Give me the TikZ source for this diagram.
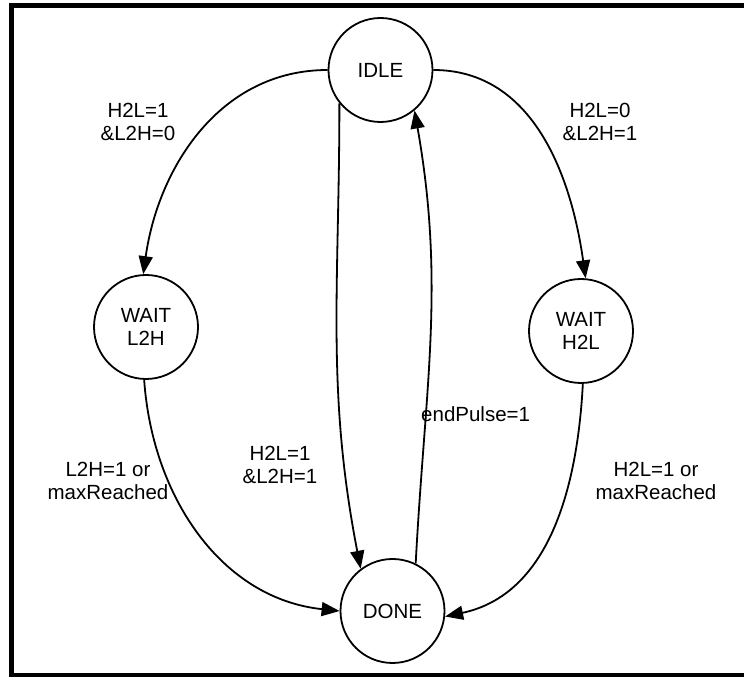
\documentclass[tikz,border=0pt]{standalone}
\usepackage{fontspec}
\setmainfont{Liberation Sans}
\usetikzlibrary{arrows.meta}
\tikzset{
  state/.style={draw, circle, line width=1.8pt, minimum size=104pt, inner sep=0pt, align=center, font=\fontsize{20.5}{23.8}\selectfont},
  lbl/.style={align=center, inner sep=0pt, font=\fontsize{20.5}{23.8}\selectfont},
  edge/.style={draw, line width=1.8pt, -{Triangle[length=18pt,width=14pt]}},
  frame/.style={draw, line width=5pt}
}
\begin{document}
\begin{tikzpicture}[x=1pt,y=1pt]
\useasboundingbox (0,0) rectangle (744,677);
\clip (0,0) rectangle (744,677);
\draw[frame] (11.8,671.5) rectangle (760,1);
\node[state] (idle) at (380.5,607) {IDLE};
\node[state] (l2h) at (146,350) {WAIT\\L2H};
\node[state] (h2l) at (581,346) {WAIT\\H2L};
\node[state] (done) at (392.5,66) {DONE};
\draw[edge] (idle.west) to[out=180,in=82] (l2h.93);
\draw[edge] (idle.east) to[out=0,in=98] (h2l.85);
\draw[edge] (idle.219.5) to[out=-90,in=101] (done.127);
\draw[edge] (done.64) to[out=87,in=-80] (idle.310);
\draw[edge] (l2h.268) to[out=-86,in=174] (done.west);
\draw[edge] (h2l.272) to[out=-93,in=12] (done.-6);
\node[lbl] (t1) at (138,555) {H2L=1\\\&L2H=0};
\node[lbl] (t2) at (600,555) {H2L=0\\\&L2H=1};
\node[lbl] (t3) at (280,212) {H2L=1\\\&L2H=1};
\node[lbl, anchor=west] (t4) at (421,263) {endPulse=1};
\node[lbl] (t5) at (108,196) {L2H=1 or\\maxReached};
\node[lbl] (t6) at (656,196) {H2L=1 or\\maxReached};
\end{tikzpicture}
\end{document}
